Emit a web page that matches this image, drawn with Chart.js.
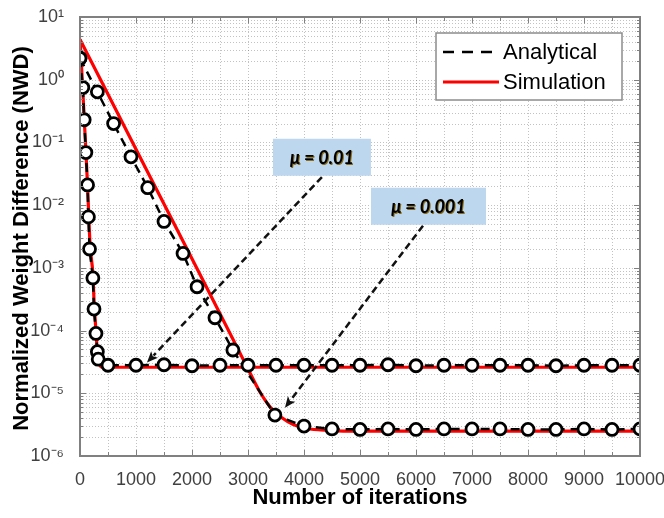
<!DOCTYPE html>
<html>
<head>
<meta charset="utf-8">
<script src="https://cdn.jsdelivr.net/npm/chart.js@4.4.1/dist/chart.umd.min.js"></script>
<style>
  html, body { margin: 0; padding: 0; background: #fff; }
  #c { display: block; }
</style>
</head>
<body>
<canvas id="c" width="664" height="518"></canvas>
<script>
// ── Data ────────────────────────────────────────────────────────────────────
const fastIter       = [0, 50, 75, 105, 135, 150, 170, 230, 250, 285, 310, 325,
                        500, 1000, 1500, 2000, 2500, 3000, 3500, 4000, 4500, 5000,
                        5500, 6000, 6500, 7000, 7500, 8000, 8500, 9000, 9500, 10000];
const fastAnalytical = [2.2, 0.75, 0.23, 0.069, 0.021, 0.0065, 0.002, 6.9e-4, 2.2e-4, 9.0e-5, 4.6e-5, 3.5e-5,
                        2.8e-5, 2.8e-5, 2.85e-5, 2.75e-5, 2.8e-5, 2.8e-5, 2.8e-5, 2.8e-5, 2.8e-5, 2.8e-5,
                        2.85e-5, 2.75e-5, 2.8e-5, 2.8e-5, 2.8e-5, 2.8e-5, 2.75e-5, 2.8e-5, 2.8e-5, 2.8e-5];

const slowIter       = [0, 310, 600, 910, 1210, 1500, 1840, 2090, 2410, 2730, 3480, 4000,
                        4500, 5000, 5500, 6000, 6500, 7000, 7500, 8000, 8500, 9000, 9500, 10000];
const slowAnalytical = [2.2, 0.64, 0.2, 0.059, 0.019, 0.0055, 0.0017, 5.0e-4, 1.6e-4, 4.9e-5, 4.5e-6, 3.0e-6,
                        2.7e-6, 2.65e-6, 2.7e-6, 2.65e-6, 2.7e-6, 2.7e-6, 2.7e-6, 2.65e-6, 2.65e-6, 2.7e-6, 2.65e-6, 2.7e-6];

const fastSimIter    = [0, 40, 70, 100, 130, 155, 180, 230, 255, 285, 310, 340, 400, 10000];
const fastSimulation = [4.4, 1.0, 0.3, 0.09, 0.025, 0.0075, 0.0023, 8.0e-4, 2.5e-4, 1.0e-4, 4.5e-5, 3.0e-5, 2.6e-5, 2.6e-5];

const slowSimIter    = [0, 1000, 2000, 3000, 3200, 3400, 3600, 3800, 4000, 4300, 4700, 10000];
const slowSimulation = [4.4, 0.078, 0.0014, 2.45e-5, 1.1e-5, 6.0e-6, 4.1e-6, 3.2e-6, 2.8e-6, 2.6e-6, 2.5e-6, 2.5e-6];

const xTicks = [0, 1000, 2000, 3000, 4000, 5000, 6000, 7000, 8000, 9000, 10000];
const yTicks = [1e-6, 1e-5, 1e-4, 1e-3, 1e-2, 1e-1, 1, 10];

const legendLabels = ['Analytical', 'Simulation'];
const noteLabels   = ['\u03bc = 0.01', '\u03bc = 0.001'];
const noteCenter   = [[4320, 0.058], [6223, 0.0096]];
const arrowFrom    = [[4320, 0.028], [6125, 0.0047]];
const arrowTo      = [[1196, 3.1e-5], [3660, 5.9e-6]];

// ── helpers ────────────────────────────────────────────────────────────────
const pts = (xs, ys) => xs.map((x, i) => ({ x, y: ys[i] }));
const SUP = { '-': '\u207b', '0': '\u2070', '1': '\u00b9', '2': '\u00b2', '3': '\u00b3',
              '4': '\u2074', '5': '\u2075', '6': '\u2076', '7': '\u2077', '8': '\u2078', '9': '\u2079' };
const sup = s => String(s).split('').map(ch => SUP[ch] || ch).join('');
const FONT = '"Liberation Sans", Arial, sans-serif';

const analyticalStyle = {
  borderColor: '#000', borderWidth: 2.5, borderDash: [9, 6],
  pointRadius: 6, pointBorderWidth: 2.8, pointBorderColor: '#000',
  pointBackgroundColor: '#fff', showLine: true, fill: false,
};
const simulationStyle = {
  borderColor: '#ff0000', borderWidth: 3.2, pointRadius: 0, fill: false,
  cubicInterpolationMode: 'monotone',
};

// ── Custom drawing: grid, box, ticks, annotations, legend, titles ──────────
const figurePlugin = {
  id: 'figure',
  beforeDatasetsDraw(chart) {
    const { ctx, chartArea: a, scales: { x, y } } = chart;
    ctx.save();
    ctx.strokeStyle = 'rgba(80,80,80,0.35)';
    ctx.lineWidth = 1;
    ctx.setLineDash([1, 2]);
    for (let v = 0; v <= 10000; v += 500) {
      const px = Math.round(x.getPixelForValue(v)) + 0.5;
      ctx.beginPath(); ctx.moveTo(px, a.top); ctx.lineTo(px, a.bottom); ctx.stroke();
    }
    for (let e = -6; e <= 0; e++) {
      for (let k = 1; k <= 9; k++) {
        const py = Math.round(y.getPixelForValue(k * Math.pow(10, e))) + 0.5;
        ctx.beginPath(); ctx.moveTo(a.left, py); ctx.lineTo(a.right, py); ctx.stroke();
      }
    }
    ctx.restore();
  },
  afterDatasetsDraw(chart) {
    const { ctx, chartArea: a, scales: { x, y } } = chart;
    ctx.save();

    // axes box + inward ticks
    ctx.strokeStyle = '#808080';
    ctx.lineWidth = 2;
    ctx.strokeRect(a.left, a.top, a.right - a.left, a.bottom - a.top);
    ctx.lineWidth = 1;
    for (let v = 0; v <= 10000; v += 500) {
      const px = Math.round(x.getPixelForValue(v)) + 0.5;
      const len = v % 1000 === 0 ? 6 : 4;
      ctx.beginPath();
      ctx.moveTo(px, a.bottom); ctx.lineTo(px, a.bottom - len);
      ctx.moveTo(px, a.top); ctx.lineTo(px, a.top + len);
      ctx.stroke();
    }
    for (let e = -6; e <= 0; e++) {
      for (let k = 1; k <= 9; k++) {
        const py = Math.round(y.getPixelForValue(k * Math.pow(10, e))) + 0.5;
        const len = k === 1 ? 6 : 3;
        ctx.beginPath();
        ctx.moveTo(a.left, py); ctx.lineTo(a.left + len, py);
        ctx.moveTo(a.right, py); ctx.lineTo(a.right - len, py);
        ctx.stroke();
      }
    }

    // arrows
    ctx.strokeStyle = '#111';
    ctx.fillStyle = '#111';
    ctx.lineWidth = 2.5;
    arrowFrom.forEach((from, i) => {
      const x0 = x.getPixelForValue(from[0]), y0 = y.getPixelForValue(from[1]);
      const x1 = x.getPixelForValue(arrowTo[i][0]), y1 = y.getPixelForValue(arrowTo[i][1]);
      const ang = Math.atan2(y1 - y0, x1 - x0);
      const head = 12;
      ctx.setLineDash([7, 4]);
      ctx.beginPath();
      ctx.moveTo(x0, y0);
      ctx.lineTo(x1 - head * 0.8 * Math.cos(ang), y1 - head * 0.8 * Math.sin(ang));
      ctx.stroke();
      ctx.setLineDash([]);
      ctx.beginPath();
      ctx.moveTo(x1, y1);
      ctx.lineTo(x1 - head * Math.cos(ang - 0.4), y1 - head * Math.sin(ang - 0.4));
      ctx.lineTo(x1 - head * 0.7 * Math.cos(ang), y1 - head * 0.7 * Math.sin(ang));
      ctx.lineTo(x1 - head * Math.cos(ang + 0.4), y1 - head * Math.sin(ang + 0.4));
      ctx.closePath();
      ctx.fill();
    });

    // annotation boxes
    const boxW = [98, 115], boxH = 37;
    noteCenter.forEach((c, i) => {
      const cx = x.getPixelForValue(c[0]), cy = y.getPixelForValue(c[1]);
      ctx.fillStyle = '#bdd7ee';
      ctx.fillRect(cx - boxW[i] / 2, cy - boxH / 2, boxW[i], boxH);
      ctx.font = 'italic bold 18px Lato, "Open Sans", sans-serif';
      ctx.textAlign = 'center';
      ctx.textBaseline = 'middle';
      ctx.fillStyle = '#8a6d1a';
      ctx.fillText(noteLabels[i], cx + 1, cy + 2);
      ctx.fillStyle = '#000';
      ctx.fillText(noteLabels[i], cx, cy + 1);
    });

    // legend
    const lx = a.right - 204, ly = a.top + 16, lw = 186, lh = 67;
    ctx.fillStyle = '#fff';
    ctx.fillRect(lx, ly, lw, lh);
    ctx.strokeStyle = '#8c8c8c';
    ctx.lineWidth = 1.5;
    ctx.strokeRect(lx, ly, lw, lh);
    ctx.font = '22px ' + FONT;
    ctx.textAlign = 'left';
    ctx.textBaseline = 'middle';
    const rows = [ly + 19, ly + 49];
    ctx.lineWidth = 2.5; ctx.strokeStyle = '#000'; ctx.setLineDash([11, 8]);
    ctx.beginPath(); ctx.moveTo(lx + 7, rows[0]); ctx.lineTo(lx + 63, rows[0]); ctx.stroke();
    ctx.setLineDash([]);
    ctx.lineWidth = 3; ctx.strokeStyle = '#ff0000';
    ctx.beginPath(); ctx.moveTo(lx + 7, rows[1]); ctx.lineTo(lx + 63, rows[1]); ctx.stroke();
    ctx.fillStyle = '#000';
    legendLabels.forEach((t, i) => ctx.fillText(t, lx + 67, rows[i] + 1));

    // axis titles
    ctx.font = 'bold 22px ' + FONT;
    ctx.textAlign = 'center';
    ctx.textBaseline = 'middle';
    ctx.fillText('Number of iterations', (a.left + a.right) / 2, a.bottom + 42);
    ctx.save();
    ctx.translate(22, (a.top + a.bottom) / 2 + 2);
    ctx.rotate(-Math.PI / 2);
    ctx.fillText('Normalized Weight Difference (NWD)', 0, 0);
    ctx.restore();

    ctx.restore();
  },
};

// ── Chart ──────────────────────────────────────────────────────────────────
new Chart(document.getElementById('c'), {
  type: 'line',
  data: {
    datasets: [
      { label: 'Analytical', data: pts(fastIter, fastAnalytical), ...analyticalStyle },
      { label: 'Analytical', data: pts(slowIter, slowAnalytical), ...analyticalStyle },
      { label: 'Simulation', data: pts(fastSimIter, fastSimulation), ...simulationStyle },
      { label: 'Simulation', data: pts(slowSimIter, slowSimulation), ...simulationStyle },
    ],
  },
  options: {
    responsive: false, animation: false,
    layout: { padding: { top: 17, right: 24, left: 0, bottom: 0 } },
    plugins: { legend: { display: false }, tooltip: { enabled: false } },
    scales: {
      x: {
        type: 'linear', min: 0, max: 10000,
        afterBuildTicks: s => { s.ticks = xTicks.map(v => ({ value: v })); },
        afterFit: s => { s.height = 62; s.paddingLeft = 0; s.paddingRight = 0; },
        grid: { display: false }, border: { display: false },
        ticks: {
          color: '#404040', font: { family: FONT, size: 18 }, padding: 5, maxRotation: 0, autoSkip: false,
          callback: v => String(v),
        },
      },
      y: {
        type: 'logarithmic', min: 1e-6, max: 10,
        afterBuildTicks: s => { s.ticks = yTicks.map(v => ({ value: v })); },
        afterFit: s => { s.width = 80; s.paddingTop = 0; s.paddingBottom = 0; },
        grid: { display: false }, border: { display: false },
        ticks: {
          color: '#404040', font: { family: FONT, size: 18 }, padding: 8, autoSkip: false,
          callback: v => '10' + sup(Math.round(Math.log10(v))),
        },
      },
    },
  },
  plugins: [figurePlugin],
});
</script>
</body>
</html>
